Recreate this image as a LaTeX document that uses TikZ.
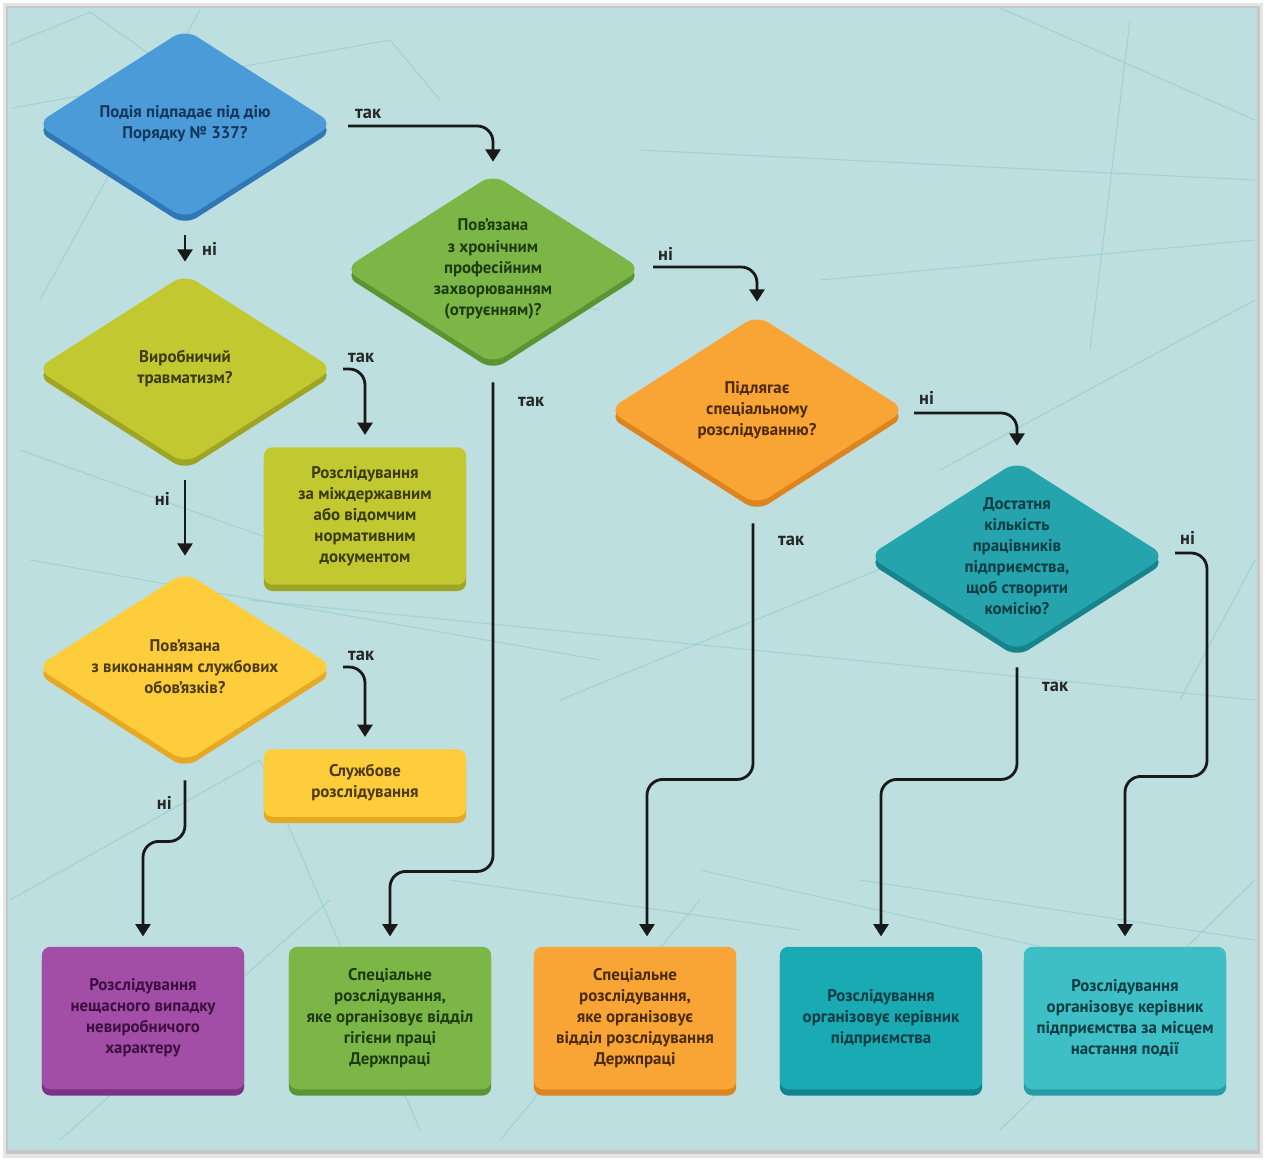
\documentclass[tikz,border=0pt]{standalone}
\usepackage{fontspec}
\setmainfont{PT Sans}
\usetikzlibrary{shapes.geometric,arrows.meta,calc,shadows}

\definecolor{bgteal}{HTML}{BDDFDF}
\definecolor{netc}{HTML}{8FCACC}
\definecolor{cBlue}{HTML}{4A9BD8}
\definecolor{cBlueE}{HTML}{2F78B5}
\definecolor{cBlueT}{HTML}{15355A}
\definecolor{cGreen}{HTML}{7CB646}
\definecolor{cGreenE}{HTML}{5B9433}
\definecolor{cGreenT}{HTML}{1D3B12}
\definecolor{cLime}{HTML}{C2C930}
\definecolor{cLimeE}{HTML}{9EA524}
\definecolor{cLimeT}{HTML}{3B3A0C}
\definecolor{cYellow}{HTML}{FDCD3C}
\definecolor{cYellowE}{HTML}{E6A925}
\definecolor{cYellowT}{HTML}{4A3A0E}
\definecolor{cOrange}{HTML}{F8A535}
\definecolor{cOrangeE}{HTML}{DD8420}
\definecolor{cOrangeT}{HTML}{4C2A06}
\definecolor{cTeal}{HTML}{26A4AD}
\definecolor{cTealE}{HTML}{17838C}
\definecolor{cTealT}{HTML}{0C3C42}
\definecolor{cPurple}{HTML}{A24DA6}
\definecolor{cPurpleE}{HTML}{7B3383}
\definecolor{cPurpleT}{HTML}{3C0F42}
\definecolor{cTealB}{HTML}{1AAAB3}
\definecolor{cTealBE}{HTML}{10858D}
\definecolor{cTealC}{HTML}{3EBFC6}
\definecolor{cTealCE}{HTML}{269EA6}

\newcommand{\boxfont}{\bfseries\fontsize{9.6}{12}\selectfont}
\newcommand{\tagfont}{\bfseries\fontsize{10.5}{12}\selectfont}

\tikzset{
  dia/.style={diamond, aspect=1.55, inner sep=-10pt, rounded corners=8pt,
    minimum width=5.95cm, minimum height=3.8cm, align=center, font=\boxfont},
  box/.style={rectangle, rounded corners=5pt, minimum width=4.05cm,
    align=center, font=\boxfont},
  edge3d/.style={drop shadow={shadow xshift=0pt, shadow yshift=-3.6pt, fill=#1, opacity=1}},
  arr/.style={-{Triangle[length=7pt,width=8.5pt]}, line width=1.6pt, rounded corners=9pt, draw=black!90},
  tag/.style={font=\tagfont, text=black!85, inner sep=1pt},
  netline/.style={draw=netc, line width=0.6pt, opacity=0.6},
}

\begin{document}
\begin{tikzpicture}[x=0.02cm,y=-0.02cm]
% frame and background
\fill[white] (0,0) rectangle (1265,1160);
\fill[black!10] (3,3) rectangle (1263,1158);
\fill[black!22] (6,6) rectangle (1260,1154);
\fill[bgteal] (8,8) rectangle (1257,1150);
\useasboundingbox (0,0) rectangle (1265,1160);

% faint network
\begin{scope}[netline]
\draw (10,45) -- (90,12) -- (200,90);
\draw (12,108) -- (390,40) -- (440,100);
\draw (200,10) -- (40,300);
\draw (1000,8) -- (1255,120);
\draw (640,150) -- (1255,180);
\draw (1130,20) -- (1090,350);
\draw (820,280) -- (1255,240);
\draw (1255,300) -- (940,470);
\draw (360,280) -- (600,310);
\draw (20,450) -- (330,560);
\draw (30,560) -- (600,660);
\draw (250,600) -- (1255,700);
\draw (560,700) -- (1000,520);
\draw (10,900) -- (260,760) -- (420,1130);
\draw (450,880) -- (800,930);
\draw (700,870) -- (1100,960);
\draw (1000,1130) -- (1255,880);
\draw (60,1140) -- (330,900);
\draw (500,1140) -- (700,900);
\draw (860,880) -- (1255,940);
\draw (1180,700) -- (1255,560);
\end{scope}

% questions
\node[dia, fill=cBlue, text=cBlueT, edge3d=cBlueE] (q1) at (185,124) {Подія підпадає під дію\\Порядку № 337?};
\node[dia, fill=cGreen, text=cGreenT, edge3d=cGreenE] (q2) at (493,269) {Пов’язана\\з хронічним\\професійним\\захворюванням\\(отруєнням)?};
\node[dia, fill=cLime, text=cLimeT, edge3d=cLimeE] (q3) at (185,369) {Виробничий\\травматизм?};
\node[dia, fill=cYellow, text=cYellowT, edge3d=cYellowE] (q4) at (185,667) {Пов’язана\\з виконанням службових\\обов’язків?};
\node[dia, fill=cOrange, text=cOrangeT, edge3d=cOrangeE] (q5) at (757,410) {Підлягає\\спеціальному\\розслідуванню?};
\node[dia, fill=cTeal, text=cTealT, edge3d=cTealE] (q6) at (1017,556) {Достатня\\кількість\\працівників\\підприємства,\\щоб створити\\комісію?};

% results
\node[box, fill=cLime, text=cLimeT, edge3d=cLimeE, minimum height=2.75cm] (r1) at (365,516) {Розслідування\\за міждержавним\\або відомчим\\нормативним\\документом};
\node[box, fill=cYellow, text=cYellowT, edge3d=cYellowE, minimum height=1.35cm] (r2) at (365,783) {Службове\\розслідування};
\node[box, fill=cPurple, text=cPurpleT, edge3d=cPurpleE, minimum height=2.85cm] (r3) at (143,1018) {Розслідування\\нещасного випадку\\невиробничого\\характеру};
\node[box, fill=cGreen, text=cGreenT, edge3d=cGreenE, minimum height=2.85cm] (r4) at (390,1018) {Спеціальне\\розслідування,\\яке організовує відділ\\гігієни праці\\Держпраці};
\node[box, fill=cOrange, text=cOrangeT, edge3d=cOrangeE, minimum height=2.85cm] (r5) at (635,1018) {Спеціальне\\розслідування,\\яке організовує\\відділ розслідування\\Держпраці};
\node[box, fill=cTealB, text=cTealT, edge3d=cTealBE, minimum height=2.85cm] (r6) at (881,1018) {Розслідування\\організовує керівник\\підприємства};
\node[box, fill=cTealC, text=cTealT, edge3d=cTealCE, minimum height=2.85cm] (r7) at (1125,1018) {Розслідування\\організовує керівник\\підприємства за місцем\\настання події};

% connectors
\draw[arr] ($(q1.east)+(14,2)$) -| node[tag, pos=0, anchor=south west, shift={(4,-4)}] {так} ($(q2.north)+(0,-12)$);
\draw[arr] ($(q1.south)+(0,16)$) -- node[tag, anchor=west, shift={(14,0)}] {ні} ($(q3.north)+(0,-12)$);
\draw[arr] ($(q3.east)+(9,0)$) -| node[tag, pos=0, anchor=south west, shift={(2,-3)}] {так} ($(r1.north)+(0,-12)$);
\draw[arr] ($(q3.south)+(0,16)$) -- node[tag, pos=0.25, anchor=east, shift={(-12,0)}] {ні} ($(q4.north)+(0,-16)$);
\draw[arr] ($(q4.east)+(9,0)$) -| node[tag, pos=0, anchor=south west, shift={(2,-3)}] {так} ($(r2.north)+(0,-12)$);
\draw[arr] ($(q4.south)+(0,18)$) node[tag, anchor=north east, shift={(-10,13)}] {ні} |- ($(r3.north)+(0,-105)$) -- ($(r3.north)+(0,-10)$);
\draw[arr] ($(q2.south)+(0,18)$) node[tag, anchor=north west, shift={(22,12)}] {так} |- ($(r4.north)+(0,-75)$) -- ($(r4.north)+(0,-10)$);
\draw[arr] ($(q2.east)+(11,-2)$) -| node[tag, pos=0, anchor=south west, shift={(2,-3)}] {ні} ($(q5.north)+(0,-13)$);
\draw[arr] ($(q5.south)+(-4,18)$) node[tag, anchor=north west, shift={(22,10)}] {так} |- ($(r5.north)+(12,-167)$) -- ($(r5.north)+(12,-10)$);
\draw[arr] ($(q5.east)+(8,3)$) -| node[tag, pos=0, anchor=south west, shift={(2,-5)}] {ні} ($(q6.north)+(0,-15)$);
\draw[arr] ($(q6.south)+(0,16)$) node[tag, anchor=north west, shift={(22,12)}] {так} |- ($(r6.north)+(0,-167)$) -- ($(r6.north)+(0,-10)$);
\draw[arr] ($(q6.east)+(9,-3)$) node[tag, anchor=south west, shift={(2,-5)}] {ні} -| ($(r7.north)+(82,-170)$) -| ($(r7.north)+(0,-10)$);
\end{tikzpicture}
\end{document}
